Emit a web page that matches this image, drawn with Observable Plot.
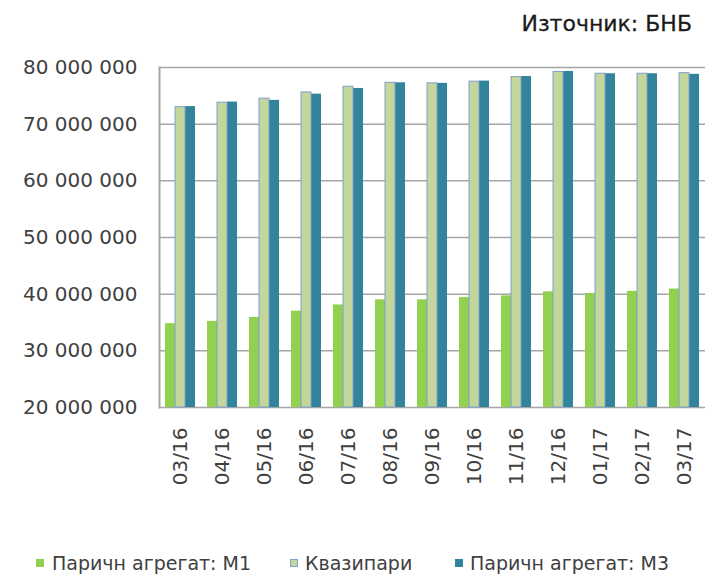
<!DOCTYPE html>
<html>
<head>
<meta charset="utf-8">
<script src="https://cdn.jsdelivr.net/npm/d3@7"></script>
<script src="https://cdn.jsdelivr.net/npm/@observablehq/plot@0.6"></script>
<style>
  html, body { margin: 0; padding: 0; background: #fff; }
  #wrap { position: relative; width: 710px; height: 577px; overflow: hidden; font-family: "DejaVu Sans", sans-serif; }
  #title { position: absolute; right: 18px; top: 10px; font-size: 22px; color: #1a1a1a; line-height: 28px; -webkit-text-stroke: 0.3px #1a1a1a; }
  #chart { position: absolute; left: 0; top: 0; }
  .leg { position: absolute; top: 552px; font-size: 19px; color: #404040; line-height: 22px; white-space: nowrap; }
  .sw { position: absolute; width: 8px; height: 8px; top: 559px; }
</style>
</head>
<body>
<div id="wrap">
  <div id="chart"></div>
  <div id="title">Източник: БНБ</div>
  <div id="legend"></div>
</div>
<script>
const months = ["03/16","04/16","05/16","06/16","07/16","08/16","09/16","10/16","11/16","12/16","01/17","02/17","03/17"];
const seriesNames = ["Паричн агрегат: M1", "Квазипари", "Паричн агрегат: M3"];
const m1Values    = [34.8, 35.2, 35.9, 37.0, 38.1, 39.0, 39.0, 39.4, 39.7, 40.4, 40.1, 40.5, 40.9];
const quasiValues = [73.0, 73.8, 74.5, 75.6, 76.6, 77.3, 77.2, 77.5, 78.3, 79.2, 78.9, 78.9, 79.0];
const m3Values    = [73.1, 73.9, 74.2, 75.3, 76.3, 77.3, 77.2, 77.6, 78.4, 79.3, 78.9, 78.9, 78.8];
const yTicks = [20000000, 30000000, 40000000, 50000000, 60000000, 70000000, 80000000];
const seriesColors = ["#92d050", "#c3d69b", "#31849b"];
const quasiBorder = "#7f9fcf";
const baseline = 20000000;

const seriesValues = [m1Values, quasiValues, m3Values];
const rows = [];
months.forEach((m, i) => {
  seriesNames.forEach((s, j) => {
    rows.push({month: m, series: s, value: seriesValues[j][i] * 1e6});
  });
});

const fmt = d => d3.format(",")(d).replace(/,/g, " ");

const chart = Plot.plot({
  width: 710,
  height: 520,
  marginTop: 67,
  marginBottom: 113,
  marginLeft: 154,
  marginRight: 0,
  style: {fontFamily: "DejaVu Sans, sans-serif", fontSize: "20px", color: "#404040", background: "transparent"},
  facet: {data: rows, x: "month"},
  fx: {domain: months, padding: 0, axis: "bottom", tickRotate: -90, tickSize: 0, tickPadding: 20, label: null},
  x: {domain: seriesNames, paddingInner: 0, paddingOuter: 0.44, axis: null},
  y: {domain: [20000000, 80000000], ticks: yTicks, tickFormat: fmt, tickSize: 0, tickPadding: 22, label: null},
  color: {domain: seriesNames, range: seriesColors},
  marks: [
    Plot.ruleY(yTicks, {stroke: "#a6a6a6", strokeWidth: 1.5}),
    Plot.frame({anchor: "left", facet: "super", stroke: "#a6a6a6", strokeWidth: 2}),
    Plot.barY(rows, {x: "series", y1: baseline, y2: "value", fill: "series"}),
    Plot.barY(rows, {filter: d => d.series === seriesNames[1], x: "series", y1: baseline, y2: "value", fill: "none", stroke: quasiBorder, strokeWidth: 1})
  ]
});
document.getElementById("chart").appendChild(chart);

// legend
const legendPos = [{sw: 36, tx: 52}, {sw: 290, tx: 305}, {sw: 455, tx: 470}];
const legend = document.getElementById("legend");
seriesNames.forEach((s, i) => {
  const sw = document.createElement("div");
  sw.className = "sw";
  sw.style.left = legendPos[i].sw + "px";
  sw.style.background = seriesColors[i];
  if (i === 1) { sw.style.boxSizing = "border-box"; sw.style.border = "1px solid " + quasiBorder; }
  legend.appendChild(sw);
  const t = document.createElement("div");
  t.className = "leg";
  t.style.left = legendPos[i].tx + "px";
  t.textContent = s;
  legend.appendChild(t);
});
</script>
</body>
</html>
